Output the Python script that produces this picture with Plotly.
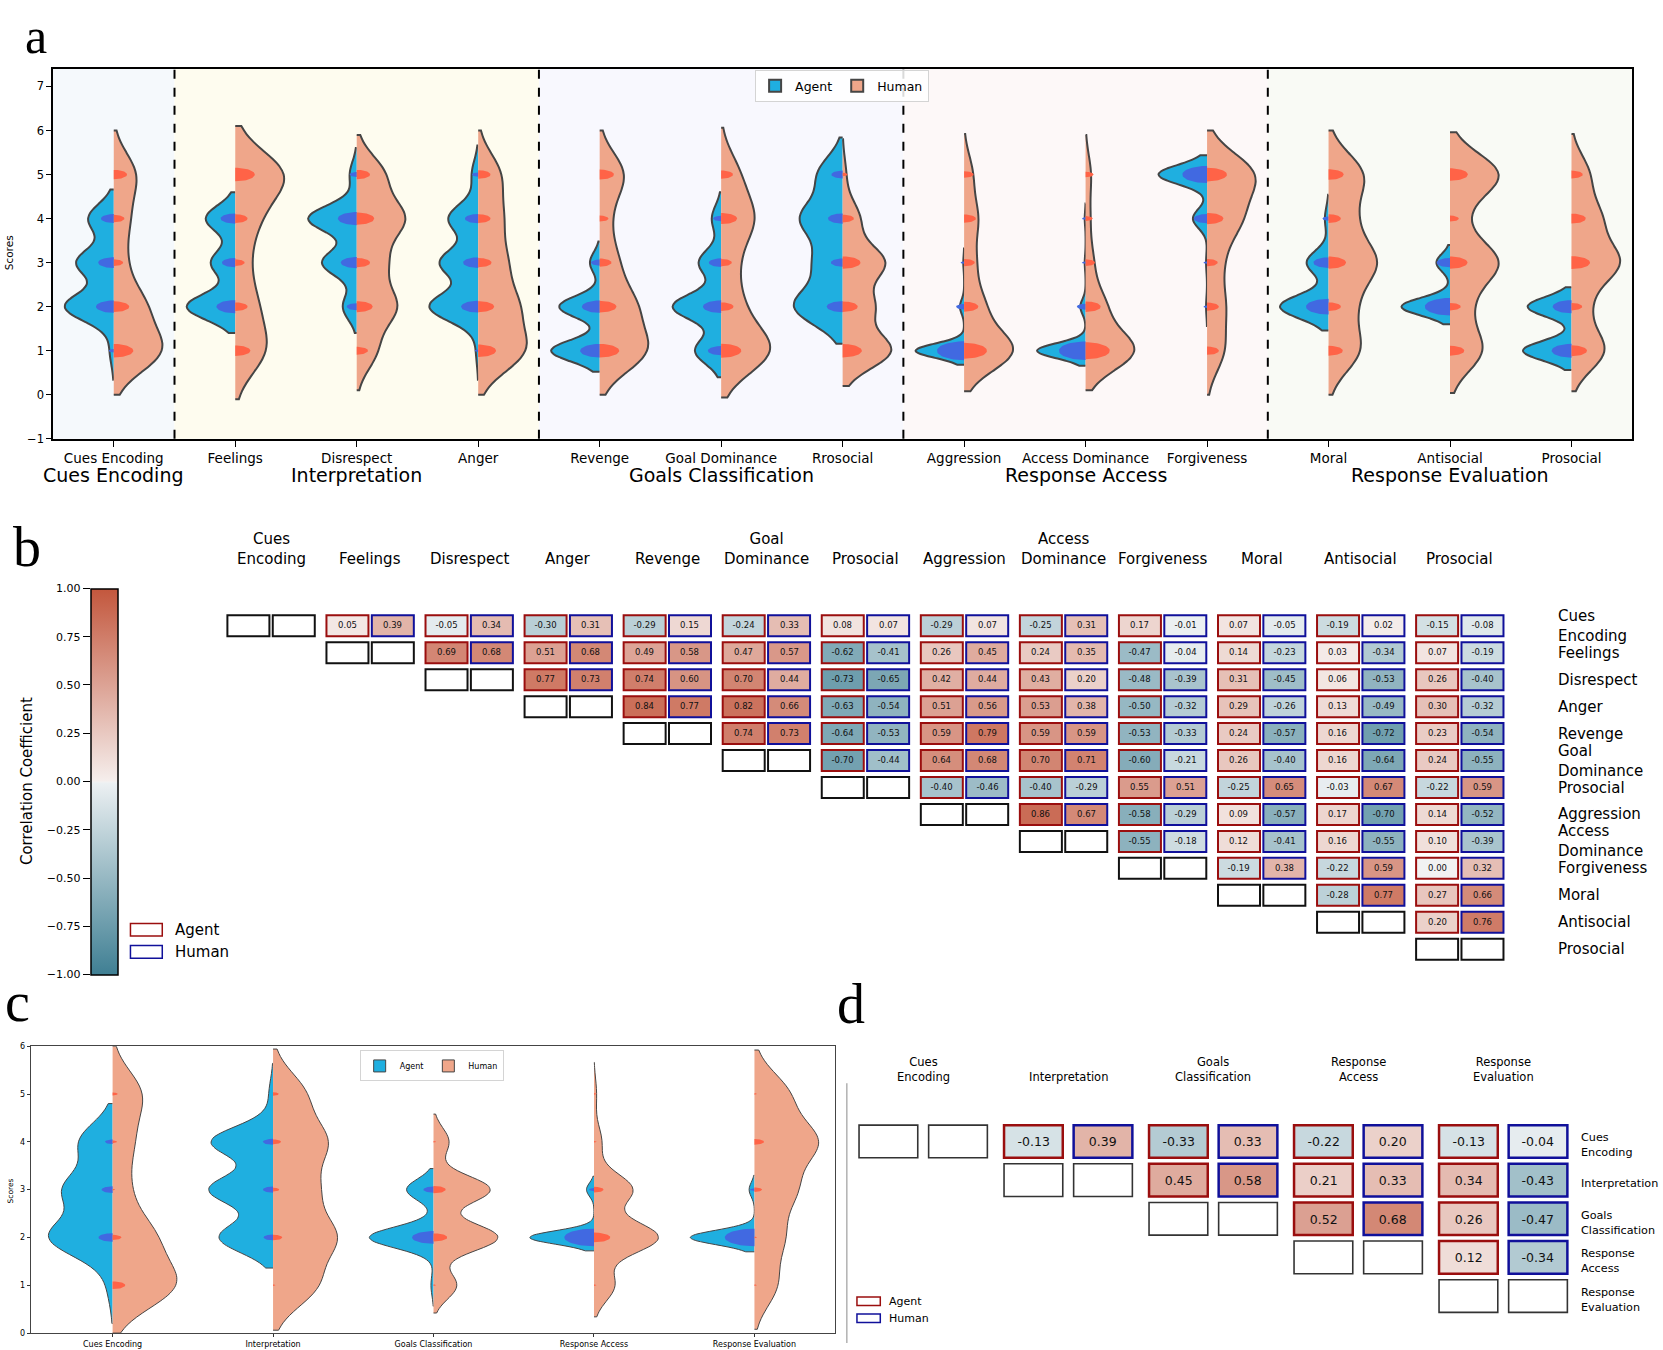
import numpy as np
import plotly.graph_objects as go

W, H = 1663, 1350
RW, RH = 1568.0, 1273.0          # measuring scale used while reading the reference


def px(x):
    return x / RW


def py(y):
    return 1.0 - (y * 1.008 - 4.5) / RH


FONT = "DejaVu Sans"
SERIF = "Liberation Serif"

# ------------------------------------------------------------------ data
items = ["Cues Encoding", "Feelings", "Disrespect", "Anger", "Revenge", "Goal Dominance",
         "Rrosocial", "Aggression", "Access Dominance", "Forgiveness", "Moral",
         "Antisocial", "Prosocial"]
scores = [1, 2, 3, 4, 5]

agent_counts = [
    [2, 25, 19, 13, 0],
    [0, 28, 14, 17, 0],
    [0, 8, 20, 28, 4],
    [1, 23, 18, 14, 3],
    [30, 25, 6, 0, 0],
    [14, 26, 12, 5, 0],
    [0, 20, 11, 17, 10],
    [58, 5, 1, 0, 0],
    [56, 6, 1, 1, 0],
    [0, 1, 1, 14, 48],
    [0, 40, 18, 3, 0],
    [0, 50, 14, 0, 0],
    [31, 28, 0, 0, 0],
]
agent_bw = [0.33, 0.30, 0.30, 0.33, 0.24, 0.30, 0.42, 0.16, 0.17, 0.22, 0.27, 0.20, 0.22]
human_counts = [
    [30, 19, 7, 9, 14],
    [18, 12, 7, 12, 30],
    [10, 20, 14, 24, 14],
    [25, 20, 14, 12, 12],
    [30, 22, 11, 6, 16],
    [32, 12, 9, 20, 11],
    [29, 18, 25, 10, 2],
    [41, 16, 9, 11, 7],
    [46, 18, 7, 4, 5],
    [11, 11, 9, 21, 31],
    [16, 12, 24, 12, 18],
    [16, 9, 24, 6, 25],
    [19, 9, 27, 16, 10],
]
human_bw = [0.50, 0.55, 0.45, 0.50, 0.50, 0.53, 0.40, 0.46, 0.45, 0.50, 0.50, 0.48, 0.46]

stage_names = ["Cues Encoding", "Interpretation", "Goals Classification",
               "Response Access", "Response Evaluation"]
stage_items = [[0], [1, 2, 3], [4, 5, 6], [7, 8, 9], [10, 11, 12]]

# panel c: stage level distributions
stage_agent_counts = [
    [2, 25, 19, 13, 0],
    [0, 27, 32, 31, 2],
    [2, 50, 21, 0, 0],
    [0, 60, 7, 0, 0],
    [0, 60, 5, 0, 0],
]
stage_agent_bw = [0.40, 0.32, 0.22, 0.14, 0.15]
stage_human_counts = [
    [30, 19, 7, 9, 14],
    [15, 21, 14, 18, 11],
    [9, 25, 22, 6, 0],
    [8, 25, 15, 3, 1],
    [8, 10, 14, 22, 12],
]
stage_human_bw = [0.50, 0.47, 0.29, 0.33, 0.46]
stage_agent_exact = [
    [0, 31, 19, 9, 0],
    [0, 14, 16, 16, 0],
    [0, 71, 16, 0, 0],
    [0, 135, 4, 0, 0],
    [0, 135, 3, 0, 0],
]
stage_human_exact = [
    [25, 12, 1, 3, 4],
    [1, 13, 6, 10, 5],
    [1, 29, 23, 1, 0],
    [1, 41, 14, 1, 1],
    [1, 1, 9, 14, 1],
]

# panel b: item correlations (row i, columns j>i)
b_labels = ["Cues<br>Encoding", "Feelings", "Disrespect", "Anger", "Revenge", "Goal<br>Dominance",
            "Prosocial", "Aggression", "Access<br>Dominance", "Forgiveness", "Moral",
            "Antisocial", "Prosocial"]
agent_corr = [
    [0.05, -0.05, -0.30, -0.29, -0.24, 0.08, -0.29, -0.25, 0.17, 0.07, -0.19, -0.15],
    [0.69, 0.51, 0.49, 0.47, -0.62, 0.26, 0.24, -0.47, 0.14, 0.03, 0.07],
    [0.77, 0.74, 0.70, -0.73, 0.42, 0.43, -0.48, 0.31, 0.06, 0.26],
    [0.84, 0.82, -0.63, 0.51, 0.53, -0.50, 0.29, 0.13, 0.30],
    [0.74, -0.64, 0.59, 0.59, -0.53, 0.24, 0.16, 0.23],
    [-0.70, 0.64, 0.70, -0.60, 0.26, 0.16, 0.24],
    [-0.40, -0.40, 0.55, -0.25, -0.03, -0.22],
    [0.86, -0.58, 0.09, 0.17, 0.14],
    [-0.55, 0.12, 0.16, 0.10],
    [-0.19, -0.22, 0.00],
    [-0.28, 0.27],
    [0.20],
]
human_corr = [
    [0.39, 0.34, 0.31, 0.15, 0.33, 0.07, 0.07, 0.31, -0.01, -0.05, 0.02, -0.08],
    [0.68, 0.68, 0.58, 0.57, -0.41, 0.45, 0.35, -0.04, -0.23, -0.34, -0.19],
    [0.73, 0.60, 0.44, -0.65, 0.44, 0.20, -0.39, -0.45, -0.53, -0.40],
    [0.77, 0.66, -0.54, 0.56, 0.38, -0.32, -0.26, -0.49, -0.32],
    [0.73, -0.53, 0.79, 0.59, -0.33, -0.57, -0.72, -0.54],
    [-0.44, 0.68, 0.71, -0.21, -0.40, -0.64, -0.55],
    [-0.46, -0.29, 0.51, 0.65, 0.67, 0.59],
    [0.67, -0.29, -0.57, -0.70, -0.52],
    [-0.18, -0.41, -0.55, -0.39],
    [0.38, 0.59, 0.32],
    [0.77, 0.66],
    [0.76],
]

# panel d: stage correlations
d_labels = ["Cues<br>Encoding", "Interpretation", "Goals<br>Classification",
            "Response<br>Access", "Response<br>Evaluation"]
d_agent_corr = [[-0.13, -0.33, -0.22, -0.13], [0.45, 0.21, 0.34], [0.52, 0.26], [0.12]]
d_human_corr = [[0.39, 0.33, 0.20, -0.04], [0.58, 0.33, -0.43], [0.68, -0.47], [-0.34]]

cb_ticks = [-1.0, -0.75, -0.5, -0.25, 0.0, 0.25, 0.5, 0.75, 1.0]

# ------------------------------------------------------------------ styles
AG_FILL = "#1fafe0"
HU_FILL = "#efa68a"
OUTLINE = "#454545"
AG_DOT = "#4169e1"
HU_DOT = "#ff6347"
AG_EDGE = "#9a0e0e"
HU_EDGE = "#10109a"
stage_bg = ["#f5f9fc", "#fefcef", "#f8f8fe", "#fdf8f8", "#f9faf5"]
CSCALE = [[0.0, "#3f7f93"], [0.497, "#ecf0f2"], [0.5, "#f2f2f2"],
          [0.503, "#f5eeec"], [1.0, "#c3573d"]]

# domains (paper fractions)
A_X = [px(50), px(1539)]
A_Y = [py(413.3), py(63.8)]
A_YR = [-1, 7.4]
C_X = [px(29), px(787)]
C_Y = [py(1258), py(987)]
C_XR = [-0.51, 4.5]
B_X = [px(208.9), px(1423.1)]
B_Y = [py(908.1), py(577.2)]
D_X = [px(802.1), px(1485.7)]
D_Y = [py(1241.25), py(1058.75)]
CB_X = px(85.5)
CB_Y = [py(919.4), py(554.6)]

fig = go.Figure()


def half_ellipses(counts_list, side, k, aspect):
    xs, ys = [], []
    t = np.linspace(-np.pi / 2, np.pi / 2, 33)
    for pos, counts in enumerate(counts_list):
        for s, c in zip(scores, counts):
            if c <= 0:
                continue
            hw = k * np.sqrt(c)
            hh = hw * aspect
            xs += list(pos + side * hw * np.cos(t)) + [None]
            ys += list(s + hh * np.sin(t)) + [None]
    return xs, ys


def add_violins(counts_a, bw_a, counts_h, bw_h, xa, ya, lw, legend):
    for i in range(len(counts_a)):
        for counts, bw, side, fill, nm in [(counts_a[i], bw_a[i], "negative", AG_FILL, "Agent"),
                                           (counts_h[i], bw_h[i], "positive", HU_FILL, "Human")]:
            samples = np.repeat(scores, counts).astype(float)
            fig.add_trace(go.Violin(
                x=np.full(len(samples), float(i)), y=samples, side=side, bandwidth=bw,
                width=0.8, spanmode="soft", points=False, scalemode="width",
                fillcolor=fill, line=dict(color=OUTLINE, width=lw), opacity=1,
                box=dict(visible=False), meanline=dict(visible=False),
                name=nm, legendgroup=nm + legend, showlegend=(i == 0), legend=legend,
                hoverinfo="skip", xaxis=xa, yaxis=ya))


# ---------------- panel a
add_violins(agent_counts, agent_bw, human_counts, human_bw, "x", "y", 2.0, "legend")
a_xunit = (A_X[1] - A_X[0]) * W / 13.0
a_yunit = (A_Y[1] - A_Y[0]) * H / (A_YR[1] - A_YR[0])
a_aspect = 0.35 * a_xunit / a_yunit
for counts, side, col in [(agent_counts, -1, AG_DOT), (human_counts, 1, HU_DOT)]:
    ex, ey = half_ellipses(counts, side, 10 / 340.0, a_aspect)
    fig.add_trace(go.Scatter(x=ex, y=ey, mode="lines", fill="toself", fillcolor=col,
                             line=dict(width=0, color=col), showlegend=False,
                             hoverinfo="skip", xaxis="x", yaxis="y"))

# ---------------- panel c
add_violins(stage_agent_counts, stage_agent_bw, stage_human_counts, stage_human_bw,
            "x5", "y5", 1.0, "legend2")
c_xunit = (C_X[1] - C_X[0]) * W / (C_XR[1] - C_XR[0])
c_yunit = (C_Y[1] - C_Y[0]) * H / 6.0
c_aspect = 0.3 * c_xunit / c_yunit
for counts, side, col in [(stage_agent_exact, -1, AG_DOT), (stage_human_exact, 1, HU_DOT)]:
    ex, ey = half_ellipses(counts, side, 5 / 314.5, c_aspect)
    fig.add_trace(go.Scatter(x=ex, y=ey, mode="lines", fill="toself", fillcolor=col,
                             line=dict(width=0, color=col), showlegend=False,
                             hoverinfo="skip", xaxis="x5", yaxis="y5"))


# ---------------- correlation grids (panels b and d)
def build_grid(n, arows, hrows, off, hw, hh):
    xe, ye = [], []
    for j in range(n):
        xe += [j - off - hw, j - off + hw, j + off - hw, j + off + hw]
    for i in range(n):
        ye += [i - hh, i + hh]
    nc, nr = 4 * n - 1, 2 * n - 1
    z = [[None] * nc for _ in range(nr)]
    tx = [[""] * nc for _ in range(nr)]
    for i in range(n - 1):
        for k, (a, h) in enumerate(zip(arows[i], hrows[i])):
            j = i + 1 + k
            z[2 * i][4 * j] = a
            z[2 * i][4 * j + 2] = h
            tx[2 * i][4 * j] = f"{a:.2f}"
            tx[2 * i][4 * j + 2] = f"{h:.2f}"
    return xe, ye, z, tx


shapes = []


def grid_shapes(n, off, hw, hh, xa, ya, lw, diag_col, diag_w):
    for i in range(n):
        for j in range(i, n):
            for c, col in [(j - off, AG_EDGE), (j + off, HU_EDGE)]:
                shapes.append(dict(type="rect", xref=xa, yref=ya, x0=c - hw, x1=c + hw,
                                   y0=i - hh, y1=i + hh, layer="above",
                                   line=dict(color=col if j > i else diag_col,
                                             width=lw if j > i else diag_w),
                                   fillcolor="rgba(0,0,0,0)"))


nb = len(b_labels)
xe, ye, z, tx = build_grid(nb, agent_corr, human_corr, 0.229, 0.212, 0.389)
fig.add_trace(go.Heatmap(x=xe, y=ye, z=z, text=tx, texttemplate="%{text}",
                         textfont=dict(size=8.5, color="#111111", family=FONT),
                         coloraxis="coloraxis", hoverongaps=False, hoverinfo="skip",
                         xaxis="x2", yaxis="y2"))
grid_shapes(nb, 0.229, 0.212, 0.389, "x2", "y2", 2.0, "#111111", 2.0)

nd = len(d_labels)
xe, ye, z, tx = build_grid(nd, d_agent_corr, d_human_corr, 0.24, 0.2025, 0.4225)
fig.add_trace(go.Heatmap(x=xe, y=ye, z=z, text=tx, texttemplate="%{text}",
                         textfont=dict(size=12.5, color="#111111", family=FONT),
                         coloraxis="coloraxis", hoverongaps=False, hoverinfo="skip",
                         xaxis="x3", yaxis="y3"))
grid_shapes(nd, 0.24, 0.2025, 0.4225, "x3", "y3", 2.5, "#333333", 1.6)

# invisible helper so that the colour-bar tick axis (left side labels) is drawn
fig.add_trace(go.Scatter(x=[0.5, 0.5], y=[cb_ticks[0], cb_ticks[-1]], mode="markers",
                         marker=dict(opacity=0, size=1), showlegend=False, hoverinfo="skip",
                         xaxis="x4", yaxis="y4"))

# ---------------- panel a decorations
for g, its in enumerate(stage_items):
    shapes.append(dict(type="rect", xref="x", yref="y domain", x0=its[0] - 0.5, x1=its[-1] + 0.5,
                       y0=0, y1=1, layer="below", line=dict(width=0), fillcolor=stage_bg[g]))
    if g > 0:
        shapes.append(dict(type="line", xref="x", yref="y domain", x0=its[0] - 0.5,
                           x1=its[0] - 0.5, y0=0, y1=1, layer="above",
                           line=dict(color="black", width=2, dash="dash")))

# legend boxes for b and d
for (x0, x1, y0, y1, col) in [(123, 153, 871, 883, AG_EDGE), (123, 153, 892, 904, HU_EDGE),
                              (808, 830, 1224, 1232, AG_EDGE), (808, 830, 1240, 1248, HU_EDGE)]:
    shapes.append(dict(type="rect", xref="paper", yref="paper", x0=px(x0), x1=px(x1),
                       y0=py(y1), y1=py(y0), line=dict(color=col, width=1.5),
                       fillcolor="white"))
# left spine of panel d
shapes.append(dict(type="line", xref="paper", yref="paper", x0=px(798.5), x1=px(798.5),
                   y0=0, y1=py(1022), line=dict(color="#8a8a8a", width=1)))

ann = []
for g, its in enumerate(stage_items):
    ann.append(dict(text=stage_names[g], xref="x", yref="paper", x=its[len(its) // 2],
                    y=py(447), yanchor="middle", showarrow=False,
                    font=dict(size=19, family=FONT, color="black")))
for j, lab in enumerate(b_labels):
    ann.append(dict(text=lab, xref="x2", yref="paper", x=j, y=py(537), yanchor="bottom",
                    showarrow=False, font=dict(size=15, family=FONT, color="black")))
    ann.append(dict(text=lab, xref="paper", yref="y2", x=px(1467), y=j, xanchor="left",
                    yanchor="middle", align="left", showarrow=False,
                    font=dict(size=15, family=FONT, color="black")))
for j, lab in enumerate(d_labels):
    ann.append(dict(text=lab, xref="x3", yref="paper", x=j, y=py(1025), yanchor="bottom",
                    showarrow=False, font=dict(size=11.5, family=FONT, color="black")))
    ann.append(dict(text=lab, xref="paper", yref="y3", x=px(1489), y=j + 0.1, xanchor="left",
                    yanchor="middle", align="left", showarrow=False,
                    font=dict(size=11.2, family=FONT, color="black")))
for txt, x, y, fs in [("Agent", 163, 877, 15), ("Human", 163, 898, 15),
                      ("Agent", 836, 1228, 11), ("Human", 836, 1244, 11)]:
    ann.append(dict(text=txt, xref="paper", yref="paper", x=px(x), y=py(y), xanchor="left",
                    yanchor="middle", showarrow=False,
                    font=dict(size=fs, family=FONT, color="black")))
for txt, x, y, fs in [("Scores", 8.5, 238, 10.5), ("Scores", 9.6, 1124, 7.5),
                      ("Correlation Coefficient", 25, 737, 15)]:
    ann.append(dict(text=txt, xref="paper", yref="paper", x=px(x), y=py(y), xanchor="center",
                    yanchor="middle", textangle=-90, showarrow=False,
                    font=dict(size=fs, family=FONT, color="black")))
ann.append(dict(text="a", xref="paper", yref="paper", x=px(33.5), y=1.0, xanchor="center",
                yanchor="top", showarrow=False, font=dict(size=50, family=SERIF, color="black")))
for txt, x, yb in [("b", 25, 0.5707), ("c", 16.5, 0.2306), ("d", 802.5, 0.229)]:
    ann.append(dict(text=txt, xref="paper", yref="paper", x=px(x), y=yb, xanchor="center",
                    yanchor="bottom", showarrow=False,
                    font=dict(size=56, family=SERIF, color="black")))

axis_common = dict(showgrid=False, zeroline=False)
fig.update_layout(
    width=W, height=H, margin=dict(l=0, r=0, t=0, b=0),
    paper_bgcolor="white", plot_bgcolor="rgba(0,0,0,0)",
    violinmode="overlay", shapes=shapes, annotations=ann,
    font=dict(family=FONT, color="black"),
    xaxis=dict(domain=A_X, range=[-0.5, 12.5], type="linear", tickvals=list(range(len(items))),
               ticktext=items, ticks="outside", ticklen=6, tickwidth=1.2, tickcolor="black",
               showline=True, mirror=True, linecolor="black", linewidth=1.5,
               tickfont=dict(size=13.5, family=FONT, color="black"), anchor="y", **axis_common),
    yaxis=dict(domain=A_Y, range=A_YR, tickvals=list(range(-1, 8)), ticks="outside", ticklen=5,
               tickwidth=1.2, tickcolor="black", showline=True, mirror=True, linecolor="black",
               linewidth=1.5, tickfont=dict(size=11.5, family=FONT, color="black"),
               anchor="x", **axis_common),
    xaxis2=dict(domain=B_X, range=[-0.5, nb - 0.5], visible=False, anchor="y2"),
    yaxis2=dict(domain=B_Y, range=[nb - 0.5, -0.5], visible=False, anchor="x2"),
    xaxis3=dict(domain=D_X, range=[-0.5, nd - 0.5], visible=False, anchor="y3"),
    yaxis3=dict(domain=D_Y, range=[nd - 0.5, -0.5], visible=False, anchor="x3"),
    xaxis4=dict(domain=[CB_X, CB_X + 0.001], range=[0, 1], visible=False, anchor="y4"),
    yaxis4=dict(domain=CB_Y, range=[-1, 1], anchor="x4", tickvals=cb_ticks,
                tickformat=".2f", ticks="outside", ticklen=7, tickwidth=1.2, tickcolor="black",
                showline=False, tickfont=dict(size=11, family=FONT, color="black"),
                **axis_common),
    xaxis5=dict(domain=C_X, range=C_XR, type="linear", tickvals=list(range(len(stage_names))),
                ticktext=stage_names, ticks="outside", ticklen=3, tickwidth=1, tickcolor="#333",
                showline=True, mirror=True, linecolor="#444", linewidth=1,
                tickfont=dict(size=8, family=FONT, color="black"), anchor="y5", **axis_common),
    yaxis5=dict(domain=C_Y, range=[0, 6], tickvals=list(range(0, 7)), ticks="outside",
                ticklen=3, tickwidth=1, tickcolor="#333", showline=True, mirror=True,
                linecolor="#444", linewidth=1, tickfont=dict(size=8, family=FONT, color="black"),
                anchor="x5", **axis_common),
    coloraxis=dict(colorscale=CSCALE, cmin=-1, cmax=1,
                   colorbar=dict(x=CB_X, xanchor="left", xpad=0, ypad=0,
                                 y=(CB_Y[0] + CB_Y[1]) / 2, yanchor="middle",
                                 len=CB_Y[1] - CB_Y[0], lenmode="fraction",
                                 thickness=27, thicknessmode="pixels", outlinewidth=1.5,
                                 outlinecolor="black", ticks="", showticklabels=False)),
    legend=dict(x=px(794), xanchor="center", y=py(65), yanchor="top", orientation="h",
                bgcolor="rgba(255,255,255,0.85)", bordercolor="#d4d4d4", borderwidth=1,
                font=dict(size=12.5, family=FONT, color="black"), itemwidth=30),
    legend2=dict(x=px(407), xanchor="center", y=py(991), yanchor="top", orientation="h",
                 bgcolor="rgba(255,255,255,0.85)", bordercolor="#d4d4d4", borderwidth=1,
                 font=dict(size=8, family=FONT, color="black"), itemwidth=30),
)

fig.write_html("out.html", config={"displayModeBar": False},
               post_script="document.body.style.margin='0px';")
